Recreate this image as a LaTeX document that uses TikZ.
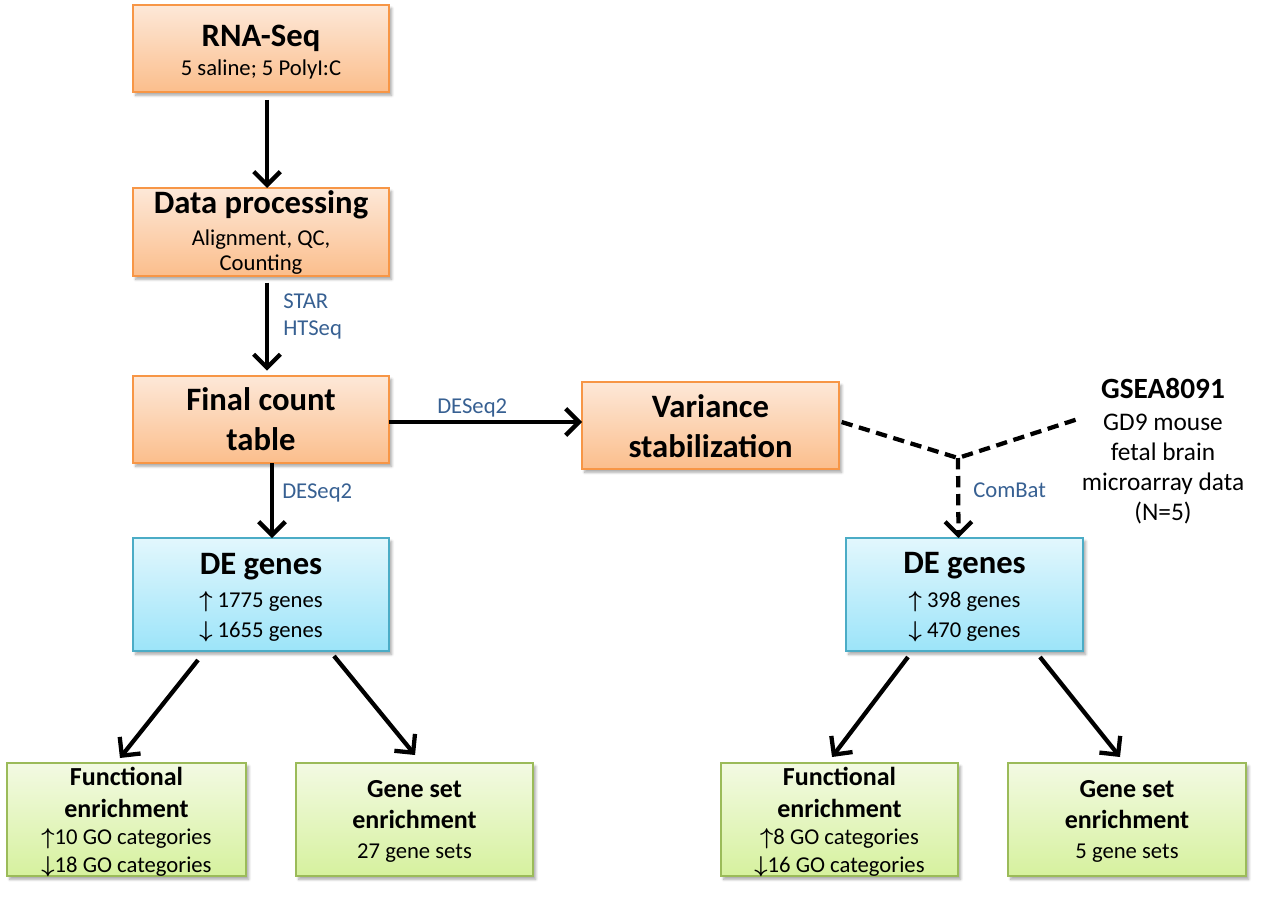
\documentclass[tikz,border=0pt]{standalone}
\usepackage{fontspec}
\setmainfont{Carlito}
\usetikzlibrary{arrows.meta,shadows.blur}
\definecolor{orB}{HTML}{F79646}
\definecolor{orT}{HTML}{FDE8D8}
\definecolor{orD}{HTML}{FBBE8C}
\definecolor{blB}{HTML}{4BACC6}
\definecolor{blT}{HTML}{E2F7FD}
\definecolor{blD}{HTML}{9CE4F9}
\definecolor{grB}{HTML}{9BBB59}
\definecolor{grT}{HTML}{F3FAE3}
\definecolor{grD}{HTML}{D6F19E}
\definecolor{labblue}{RGB}{55,96,146}
\newcommand\upar{{\boldmath$\uparrow$}}
\newcommand\dnar{{\boldmath$\downarrow$}}
\tikzset{
  box/.style={draw, line width=1.5pt, inner sep=0pt, outer sep=0pt,
    blur shadow={shadow xshift=2pt, shadow yshift=-2.5pt, shadow blur steps=6, shadow opacity=35}},
  obox/.style={box, draw=orB, top color=orT, bottom color=orD},
  bbox/.style={box, draw=blB, top color=blT, bottom color=blD},
  gbox/.style={box, draw=grB, top color=grT, bottom color=grD},
  txt/.style={anchor=base, inner sep=0pt},
  ttl/.style={txt, font=\fontsize{24.5}{28}\selectfont\bfseries},
  sttl/.style={txt, font=\fontsize{19.5}{23}\selectfont\bfseries},
  sub/.style={txt, font=\fontsize{17}{20}\selectfont},
  lbl/.style={anchor=base west, inner sep=0pt, text=labblue, font=\fontsize{17}{20}\selectfont},
  tipb/.tip={Straight Barb[length=10pt,width=20pt]},
  arr/.style={line width=3.2pt, -tipb},
  dsh/.style={line width=3.2pt, dash pattern=on 8.5pt off 5pt},
}
\begin{document}
\begin{tikzpicture}[x=0.75pt,y=-0.75pt]
\useasboundingbox (0,0) rectangle (1266,902);
% boxes
\node[obox, minimum width=192pt, minimum height=65.25pt] (rna) at (261,48.5) {};
\node[obox, minimum width=192pt, minimum height=66pt] (dp) at (261,232) {};
\node[obox, minimum width=192pt, minimum height=65.25pt] (fct) at (261,419.5) {};
\node[obox, minimum width=192.75pt, minimum height=65.25pt] (var) at (710.5,425.5) {};
\node[bbox, minimum width=192pt, minimum height=84.75pt] (de1) at (261,594.5) {};
\node[bbox, minimum width=177.75pt, minimum height=84.75pt] (de2) at (964.5,594.5) {};
\node[gbox, minimum width=179.25pt, minimum height=84.75pt] (fe1) at (126.5,819.5) {};
\node[gbox, minimum width=177.75pt, minimum height=84.75pt] (gs1) at (414.5,819.5) {};
\node[gbox, minimum width=177.75pt, minimum height=84.75pt] (fe2) at (839.5,819.5) {};
\node[gbox, minimum width=178.5pt, minimum height=84.75pt] (gs2) at (1127,819.5) {};
% texts
\node[ttl] (rnaT) at (261,47) {RNA-Seq};
\node[sub] (rnaS) at (261,76) {5 saline; 5 PolyI:C};
\node[ttl] (dpT) at (261,214) {Data processing};
\node[sub] (dpS1) at (261,245) {Alignment, QC,};
\node[sub] (dpS2) at (261,270) {Counting};
\node[ttl] (fctT1) at (261,410) {Final count};
\node[ttl] (fctT2) at (261,450) {table};
\node[ttl] (varT1) at (710.5,417) {Variance};
\node[ttl] (varT2) at (710.5,457) {stabilization};
\node[ttl] (de1T) at (261,574) {DE genes};
\node[sub] (de1S1) at (261,607) {\upar\ 1775 genes};
\node[sub] (de1S2) at (261,637) {\dnar\ 1655 genes};
\node[ttl] (de2T) at (964.5,573) {DE genes};
\node[sub] (de2S1) at (964.5,607) {\upar\ 398 genes};
\node[sub] (de2S2) at (964.5,637) {\dnar\ 470 genes};
\node[sttl] (fe1T1) at (126.5,785) {Functional};
\node[sttl] (fe1T2) at (126.5,817) {enrichment};
\node[sub] (fe1S1) at (126.5,844) {\upar10 GO categories};
\node[sub] (fe1S2) at (126.5,872) {\dnar18 GO categories};
\node[sttl] (gs1T1) at (414.5,797) {Gene set};
\node[sttl] (gs1T2) at (414.5,828) {enrichment};
\node[sub] (gs1S) at (414.5,858) {27 gene sets};
\node[sttl] (fe2T1) at (839.5,785) {Functional};
\node[sttl] (fe2T2) at (839.5,817) {enrichment};
\node[sub] (fe2S1) at (839.5,844) {\upar8 GO categories};
\node[sub] (fe2S2) at (839.5,872) {\dnar16 GO categories};
\node[sttl] (gs2T1) at (1127,797) {Gene set};
\node[sttl] (gs2T2) at (1127,828) {enrichment};
\node[sub] (gs2S) at (1127,858) {5 gene sets};
\node[txt, font=\fontsize{22}{26}\selectfont\bfseries] (gseT) at (1163,398) {GSEA8091};
\node[txt, font=\fontsize{19}{22}\selectfont] (gseS1) at (1163,430) {GD9 mouse};
\node[txt, font=\fontsize{19}{22}\selectfont] (gseS2) at (1163,460) {fetal brain};
\node[txt, font=\fontsize{19}{22}\selectfont] (gseS3) at (1163,490) {microarray data};
\node[txt, font=\fontsize{19}{22}\selectfont] (gseS4) at (1163,520) {(N=5)};
% connector labels
\node[lbl] (lSTAR) at (283,308) {STAR};
\node[lbl] (lHT) at (283,335) {HTSeq};
\node[lbl] (lDE1) at (282,498) {DESeq2};
\node[lbl] (lDE2) at (437,413) {DESeq2};
\node[lbl] (lCB) at (973,497) {ComBat};
% connectors
\draw[arr] ([xshift=4.5pt,yshift=-6pt]rna.south) -- ([xshift=4.5pt]dp.north);
\draw[arr] ([xshift=4.5pt,yshift=-5pt]dp.south) -- ([xshift=4.5pt,yshift=4pt]fct.north);
\draw[arr] ([xshift=8.25pt]fct.south) -- ([xshift=8.25pt]de1.north);
\draw[arr] ([yshift=-1.875pt]fct.east) -- ([yshift=2.625pt]var.west);
\coordinate (join) at (958,458);
\coordinate (gend) at (1078,419);
\draw[dsh] ([xshift=2pt,yshift=2.6pt]var.east) -- (join) -- (gend);
\draw[dsh, -tipb] (join) -- ([xshift=-4.5pt]de2.north);
\draw[arr] ([xshift=-47.25pt,yshift=-6.75pt]de1.south) -- ([xshift=-4.9pt,yshift=3.75pt]fe1.north);
\draw[arr] ([xshift=54.75pt,yshift=-3.75pt]de1.south) -- ([xshift=0.4pt,yshift=6pt]gs1.north);
\draw[arr] ([xshift=-42.4pt,yshift=-4.5pt]de2.south) -- ([xshift=-5.6pt,yshift=4.5pt]fe2.north);
\draw[arr] ([xshift=56.6pt,yshift=-4.5pt]de2.south) -- ([xshift=-5.25pt,yshift=4.5pt]gs2.north);
\end{tikzpicture}
\end{document}
